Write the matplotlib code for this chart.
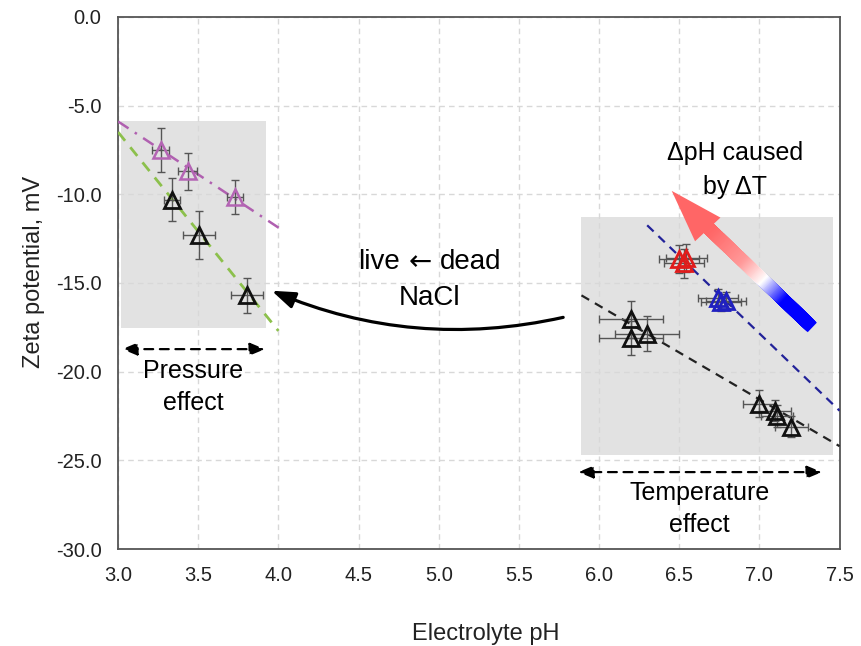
import numpy as np
import matplotlib
matplotlib.use("Agg")
import matplotlib.pyplot as plt
from matplotlib.patches import Rectangle
from matplotlib.collections import LineCollection
from matplotlib.colors import LinearSegmentedColormap

plt.rcParams['font.family'] = ['Liberation Sans', 'DejaVu Sans']

# data
# pressure effect (left group)
press_live_x = [3.335, 3.505, 3.805]
press_live_y = [-10.3, -12.3, -15.7]
press_live_xerr = [0.05, 0.10, 0.10]
press_live_yerr = [1.2, 1.35, 1.0]

press_dead_x = [3.265, 3.435, 3.73]
press_dead_y = [-7.5, -8.7, -10.15]
press_dead_xerr = [0.055, 0.06, 0.05]
press_dead_yerr = [1.25, 1.05, 0.95]

# temperature effect (right group)
temp_live_x = [6.20, 6.20, 6.30, 7.00, 7.10, 7.11, 7.20]
temp_live_y = [-17.05, -18.1, -17.85, -21.8, -22.2, -22.5, -23.1]
temp_live_xerr = [0.2, 0.2, 0.2, 0.1, 0.1, 0.1, 0.1]
temp_live_yerr = [1.05, 0.95, 1.0, 0.75, 0.6, 0.6, 0.6]

temp_red_x = [6.50, 6.545, 6.53]
temp_red_y = [-13.65, -13.6, -13.9]
temp_red_xerr = [0.125, 0.125, 0.125]
temp_red_yerr = [0.8, 0.8, 0.8]

temp_blue_x = [6.74, 6.79, 6.76]
temp_blue_y = [-15.85, -16.0, -16.1]
temp_blue_xerr = [0.125, 0.125, 0.125]
temp_blue_yerr = [0.5, 0.5, 0.5]

# trend lines (end points)
green_fit_x = [3.0, 4.0]
green_fit_y = [-6.5, -17.7]
purple_fit_x = [3.0, 4.02]
purple_fit_y = [-5.9, -12.0]
blue_fit_x = [6.3, 7.5]
blue_fit_y = [-11.75, -22.2]
black_fit_x = [5.89, 7.5]
black_fit_y = [-15.7, -24.2]

# shaded regions: (x0, x1, y0, y1)
press_box = (3.02, 3.92, -17.55, -5.9)
temp_box = (5.886, 7.456, -24.7, -11.28)

xticks = np.arange(3.0, 7.51, 0.5)
yticks = np.arange(-30.0, 0.01, 5.0)

fig = plt.figure(figsize=(8.62, 6.46), dpi=100)
ax = fig.add_axes([0.137, 0.150, 0.837, 0.824])
ax.set_xlim(3.0, 7.5)
ax.set_ylim(-30.0, 0.0)
ax.set_xticks(xticks)
ax.set_yticks(yticks)
ax.set_xticklabels([f'{v:.1f}' for v in xticks])
ax.set_yticklabels([f'{v:.1f}' for v in yticks])
ax.tick_params(length=0, pad=12, labelsize=14.5, labelcolor='#222222')
ax.grid(True, color='#d8d8d8', linestyle=(0, (4, 3)), linewidth=1)
for s in ax.spines.values():
    s.set_color('#555555')
    s.set_linewidth(1.3)

for b in (press_box, temp_box):
    ax.add_patch(Rectangle((b[0], b[2]), b[1] - b[0], b[3] - b[2],
                           facecolor='#e2e2e2', edgecolor='none', zorder=1))

# trend lines
ax.plot(green_fit_x, green_fit_y, color='#8cc04c', lw=2, ls=(0, (4, 3)), zorder=3)
ax.plot(purple_fit_x, purple_fit_y, color='#b060b0', lw=1.8, ls=(0, (5, 3, 1, 3)), zorder=3)
ax.plot(blue_fit_x, blue_fit_y, color='#222299', lw=1.6, ls=(0, (4, 3)), zorder=3)
ax.plot(black_fit_x, black_fit_y, color='#222222', lw=1.6, ls=(0, (4, 3)), zorder=3)

groups = [
    (press_dead_x, press_dead_y, press_dead_xerr, press_dead_yerr, '#b464b4', 1.8),
    (press_live_x, press_live_y, press_live_xerr, press_live_yerr, '#111111', 2.0),
    (temp_live_x, temp_live_y, temp_live_xerr, temp_live_yerr, '#111111', 2.0),
    (temp_red_x, temp_red_y, temp_red_xerr, temp_red_yerr, '#e01c1c', 2.0),
    (temp_blue_x, temp_blue_y, temp_blue_xerr, temp_blue_yerr, '#2020c0', 2.0),
]
for gx, gy, gxe, gye, col, mew in groups:
    ax.errorbar(gx, gy, xerr=gxe, yerr=gye, fmt='none', ecolor='#555555',
                elinewidth=1, capsize=3, capthick=1, zorder=4)
    ax.plot(gx, gy, ls='none', marker='^', ms=11.5, mfc='none', mec=col,
            mew=mew, zorder=5)

# gradient arrow: dpH caused by dT
tail = (7.30, -17.25)
base = (6.67, -11.8)
tip = (6.453, -9.81)
n = 120
t = np.linspace(0, 1, n + 1)
px = tail[0] + (base[0] - tail[0]) * t
py = tail[1] + (base[1] - tail[1]) * t
segs = [[(px[i], py[i]), (px[i + 1], py[i + 1])] for i in range(n)]
cmap = LinearSegmentedColormap.from_list(
    'bwr_arrow', [(0.0, '#0000ff'), (0.28, '#0000ff'), (0.48, '#ffffff'),
                  (0.68, '#ff9a9a'), (1.0, '#ff6666')])
lc = LineCollection(segs, colors=cmap(t[:-1]), linewidths=9.5,
                    capstyle='projecting', zorder=6)
ax.add_collection(lc)
ax.annotate('', xy=tip, xytext=(6.70, -12.2),
            arrowprops=dict(arrowstyle='-|>,head_length=3.8,head_width=1.25',
                            mutation_scale=10, color='#ff6666', lw=0,
                            shrinkA=0, shrinkB=0), zorder=7)

# curved arrow: live <- dead NaCl
ax.annotate('', xy=(3.958, -15.44), xytext=(5.776, -16.94),
            arrowprops=dict(arrowstyle='-|>,head_length=0.7,head_width=0.25',
                            mutation_scale=20, color='black', lw=2.3,
                            shrinkA=0, shrinkB=0,
                            connectionstyle='arc3,rad=-0.16'), zorder=6)

# dashed double arrows
ax.annotate('', xy=(3.025, -18.73), xytext=(3.916, -18.73),
            arrowprops=dict(arrowstyle='<|-|>,head_length=0.6,head_width=0.25',
                            mutation_scale=15, color='black', lw=1.6,
                            linestyle=(0, (4, 3)), shrinkA=0, shrinkB=0))
ax.annotate('', xy=(5.87, -25.66), xytext=(7.39, -25.66),
            arrowprops=dict(arrowstyle='<|-|>,head_length=0.6,head_width=0.25',
                            mutation_scale=15, color='black', lw=1.6,
                            linestyle=(0, (4, 3)), shrinkA=0, shrinkB=0))

ax.text(6.846, -8.63, 'ΔpH caused\nby ΔT', ha='center', va='center', fontsize=18,
        linespacing=1.55, zorder=8)
ax.text(4.76, -13.82, 'live', ha='right', va='center', fontsize=20, zorder=8)
ax.text(4.885, -13.82, '←', ha='center', va='center', fontsize=20,
        family=['DejaVu Sans'], zorder=8)
ax.text(5.01, -13.82, 'dead', ha='left', va='center', fontsize=20, zorder=8)
ax.text(4.945, -15.85, 'NaCl', ha='center', va='center', fontsize=20, zorder=8)
ax.text(3.467, -20.87, 'Pressure\neffect', ha='center', va='center', fontsize=18,
        linespacing=1.4, zorder=8)
ax.text(6.627, -27.75, 'Temperature\neffect', ha='center', va='center', fontsize=18,
        linespacing=1.45, zorder=8)

ax.set_xlabel('Electrolyte pH', fontsize=17, color='#222222')
ax.set_ylabel('Zeta potential, mV', fontsize=17, color='#222222')
ax.xaxis.set_label_coords(0.51, -0.139)
ax.yaxis.set_label_coords(-0.102, 0.52)

fig.savefig('out.png', dpi=100)
